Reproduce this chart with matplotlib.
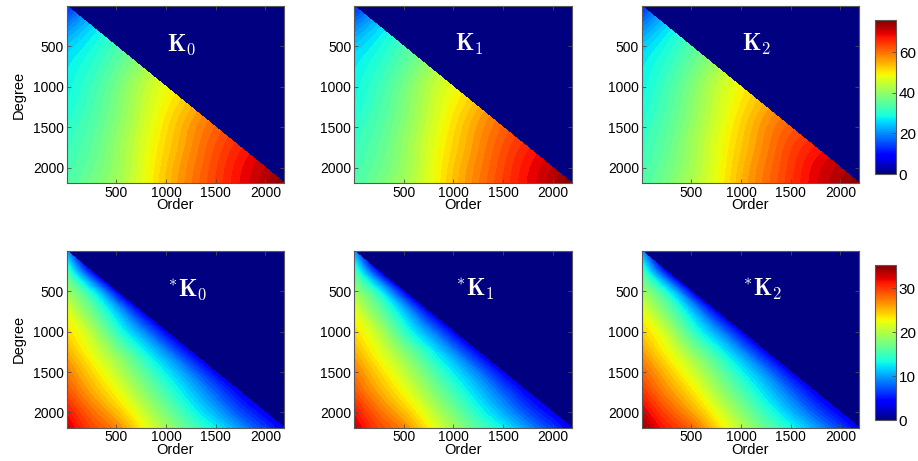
import numpy as np
import matplotlib
matplotlib.use("Agg")
import matplotlib.pyplot as plt
import matplotlib.tri as mtri
from matplotlib.colors import Normalize
from matplotlib.cm import ScalarMappable

plt.rcParams['font.family'] = ['Liberation Sans', 'DejaVu Sans']
plt.rcParams['mathtext.fontset'] = 'cm'

# ---- data: grid nodes (degree rows, order columns; only order <= degree) ----
degree_nodes = [0, 250, 500, 750, 1000, 1250, 1500, 1750, 2000, 2190]
order_nodes = [0, 250, 500, 750, 1000, 1250, 1500, 1750, 2000, 2190]

K0_rows = [
    [12],
    [19, 25],
    [24.5, 28.5, 33],
    [27, 30.5, 35, 40.5],
    [28, 32, 37, 43, 48],
    [29, 33, 38, 44, 49.5, 54.5],
    [30.5, 34, 39, 45, 51, 56.5, 61],
    [31.5, 35, 40, 46, 52, 57.5, 62.5, 66.5],
    [32.5, 36, 40.5, 46.5, 53, 58.5, 63.5, 68, 71.5],
    [33.5, 37, 41.5, 47, 53.5, 59, 64, 68.5, 72.5, 76],
]
K1_rows = [
    [12],
    [19, 25],
    [24.5, 28.5, 33],
    [27, 30.5, 35, 40.5],
    [28, 32, 37, 43, 48],
    [29, 33, 38, 44, 49.5, 54.5],
    [30.5, 34, 39, 45, 51, 56.5, 61],
    [31.5, 35, 40, 46, 52, 57.5, 62.5, 66.5],
    [32.5, 36, 40.5, 46.5, 53, 58.5, 63.5, 68, 71.5],
    [33.5, 37, 41.5, 47, 53.5, 59, 64, 68.5, 72.5, 76],
]
K2_rows = [
    [12],
    [19, 25.5],
    [24.5, 29, 34],
    [27, 31, 36, 41.5],
    [28, 32.5, 38, 44, 49],
    [29, 33.5, 39, 45, 50.5, 55.5],
    [30.5, 34.5, 40, 46, 52, 57.5, 61.5],
    [31.5, 35.5, 41, 47, 53, 58.5, 63.5, 67],
    [32.5, 36.5, 41.5, 47.5, 54, 59.5, 64.5, 69, 72],
    [33.5, 37.5, 42.5, 48, 54.5, 60, 65, 69.5, 73, 76],
]
sK0_rows = [
    [10],
    [15.5, 4],
    [19, 13, 4],
    [22, 17, 11, 4],
    [23.8, 20, 14.5, 9.5, 4],
    [25.6, 22, 18, 13.5, 9, 4],
    [27.4, 24, 20.5, 16.5, 12.5, 8.5, 4],
    [29.2, 25.8, 22.6, 18.8, 15, 11.3, 7.6, 4],
    [31.5, 28, 25, 21.2, 17.4, 13.7, 10.3, 6.9, 4],
    [33, 29.5, 27, 23, 19.2, 15.8, 12.8, 9.4, 6.2, 3.5],
]
sK1_rows = [
    [10],
    [15.5, 4],
    [19, 13, 4],
    [22, 17, 11, 4],
    [23.8, 20, 14.5, 9.5, 4],
    [25.6, 22, 18, 13.5, 9, 4],
    [27.4, 24, 20.5, 16.5, 12.5, 8.5, 4],
    [29.2, 25.8, 22.6, 18.8, 15, 11.3, 7.6, 4],
    [31.5, 28, 25, 21.2, 17.4, 13.7, 10.3, 6.9, 4],
    [33, 29.5, 27, 23, 19.2, 15.8, 12.8, 9.4, 6.2, 3.5],
]
sK2_rows = [
    [10],
    [15.5, 4],
    [19, 13.2, 4],
    [22.2, 17.3, 11.2, 4],
    [24.2, 20.5, 14.9, 9.8, 4],
    [26.3, 22.7, 18.6, 14, 9.3, 4],
    [28.3, 24.9, 21.3, 17.2, 13, 8.8, 4],
    [30.4, 26.9, 23.6, 19.6, 15.7, 11.8, 7.9, 4],
    [32.8, 29.2, 26.1, 22.2, 18.2, 14.4, 10.8, 7.2, 4],
    [34.6, 30.9, 28.3, 24.1, 20.1, 16.6, 13.4, 9.9, 6.5, 3.6],
]

top_titles = [r'$\mathbf{K}_\mathbf{0}$', r'$\mathbf{K}_\mathbf{1}$', r'$\mathbf{K}_\mathbf{2}$']
bot_titles = [r'$^*\!\mathbf{K}_\mathbf{0}$', r'$^*\!\mathbf{K}_\mathbf{1}$', r'$^*\!\mathbf{K}_\mathbf{2}$']
top_vmax = 76
bot_vmax = 35.3
top_cticks = [0, 20, 40, 60]
bot_cticks = [0, 10, 20, 30]
axis_ticks = [500, 1000, 1500, 2000]

# ---- build triangulation ----
pts_x, pts_y = [], []
index = {}
for i, n in enumerate(degree_nodes):
    for j in range(i + 1):
        index[(i, j)] = len(pts_x)
        pts_x.append(order_nodes[j])
        pts_y.append(n)
tris = []
for i in range(1, len(degree_nodes)):
    for j in range(i):
        tris.append([index[(i - 1, j)], index[(i, j)], index[(i, j + 1)]])
        if j + 1 <= i - 1:
            tris.append([index[(i - 1, j)], index[(i, j + 1)], index[(i - 1, j + 1)]])
triang = mtri.Triangulation(np.array(pts_x, float), np.array(pts_y, float), tris)
refiner = mtri.UniformTriRefiner(triang)

def flat(rows):
    return np.array([v for r in rows for v in r], float)

cmap = plt.get_cmap('jet')
fig = plt.figure(figsize=(9.18, 4.61), dpi=100)

W, H = 918.0, 461.0
lefts = [66.7, 354.0, 641.7]
aw = 217.5
rows_spec = [(6.0, 183.0), (251.0, 427.7)]
FS = 10

def make_panel(left, top, bottom, rows, vmax, title, ylabel, tx):
    ax = fig.add_axes([left / W, 1 - bottom / H, aw / W, (bottom - top) / H])
    ax.set_facecolor(cmap(0.0))
    z = flat(rows)
    tri_r, z_r = refiner.refine_field(z, subdiv=3)
    levels = np.linspace(0, vmax, 51)
    ax.tricontourf(tri_r, np.clip(z_r, 0, vmax), levels=levels, cmap=cmap, vmin=0, vmax=vmax)
    ax.set_xlim(0, 2190)
    ax.set_ylim(2190, 0)
    ax.set_xticks(axis_ticks)
    ax.set_yticks(axis_ticks)
    ax.tick_params(direction='in', length=3, width=0.6, top=True, right=True,
                   labelsize=FS, pad=2, color='0.3')
    for s in ax.spines.values():
        s.set_color('0.35')
        s.set_linewidth(0.8)
    ax.set_xlabel('Order', fontsize=FS + 0.5, labelpad=-1)
    if ylabel:
        ax.set_ylabel('Degree', fontsize=FS + 0.5, labelpad=5)
    ax.text(tx, 0.78, title, transform=ax.transAxes, color='white', fontsize=17,
            ha='center', va='center')
    return ax

for r, (top, bottom) in enumerate(rows_spec):
    for c in range(3):
        if r == 0:
            rows = [K0_rows, K1_rows, K2_rows][c]
            make_panel(lefts[c], top, bottom, rows, top_vmax, top_titles[c], c == 0, 0.53)
        else:
            rows = [sK0_rows, sK1_rows, sK2_rows][c]
            make_panel(lefts[c], top, bottom, rows, bot_vmax, bot_titles[c], c == 0, 0.55)

def make_cbar(top, bottom, vmax, ticks):
    cax = fig.add_axes([875 / W, 1 - bottom / H, 21 / W, (bottom - top) / H])
    sm = ScalarMappable(norm=Normalize(0, vmax), cmap=cmap)
    cb = fig.colorbar(sm, cax=cax, ticks=ticks)
    cb.ax.tick_params(direction='in', length=3, width=0.6, labelsize=FS + 1, pad=2, color='0.3')
    cb.outline.set_edgecolor('0.35')
    cb.outline.set_linewidth(0.8)

make_cbar(20, 174, top_vmax, top_cticks)
make_cbar(265, 420, bot_vmax, bot_cticks)

fig.savefig('out.png', dpi=100)
